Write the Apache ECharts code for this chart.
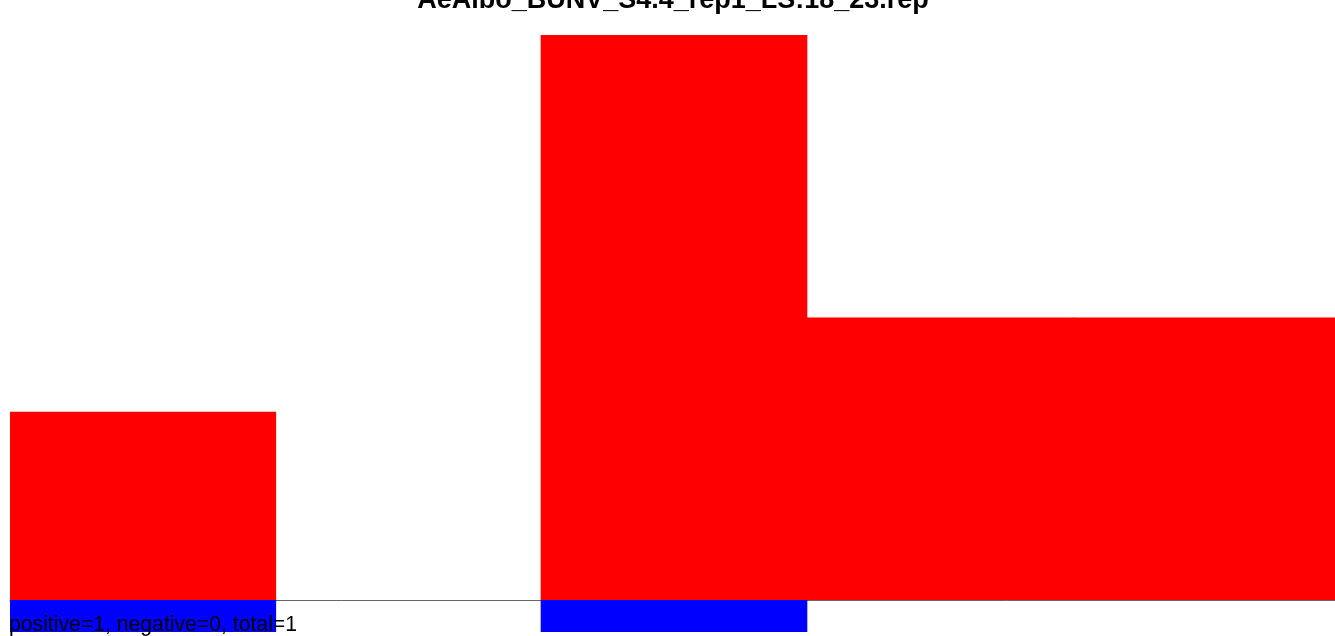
<!DOCTYPE html>
<html>
<head>
<meta charset="utf-8">
<style>html,body{margin:0;padding:0;background:#fff;overflow:hidden}#c{width:1345px;height:636px}</style>
<script src="https://cdn.jsdelivr.net/npm/echarts@6/dist/echarts.min.js"></script>
</head>
<body>
<div id="c"></div>
<script>
const titleText = 'AeAlbo_BUNV_S4.4_rep1_LS:18_23.rep';
const footerText = 'positive=1, negative=0, total=1';
const categories = ['1', '2', '3', '4', '5'];
const positiveValues = [2, 0, 6, 3, 3];
const negativeValues = [-1, 0, -1, 0, 0];

const chart = echarts.init(document.getElementById('c'), null, {renderer: 'canvas'});
chart.setOption({
  animation: false,
  backgroundColor: '#ffffff',
  grid: [
    {left: 10, width: 1328, top: 35, height: 565},
    {left: 10, width: 1328, top: 600, height: 32}
  ],
  xAxis: [
    {type: 'category', gridIndex: 0, data: categories, boundaryGap: true,
     axisLine: {show: true, lineStyle: {color: '#666', width: 1}}, axisTick: {show: false}, axisLabel: {show: false}, splitLine: {show: false}},
    {type: 'category', gridIndex: 1, data: categories, boundaryGap: true,
     axisLine: {show: false}, axisTick: {show: false}, axisLabel: {show: false}, splitLine: {show: false}}
  ],
  yAxis: [
    {type: 'value', gridIndex: 0, min: 0, max: 6, show: false, splitLine: {show: false}},
    {type: 'value', gridIndex: 1, min: -1, max: 0, show: false, splitLine: {show: false}}
  ],
  series: [
    {type: 'bar', xAxisIndex: 0, yAxisIndex: 0, data: positiveValues, barWidth: '100.4%', barCategoryGap: '0%',
     itemStyle: {color: '#ff0000'}},
    {type: 'bar', xAxisIndex: 1, yAxisIndex: 1, data: negativeValues, barWidth: '100.4%', barCategoryGap: '0%',
     itemStyle: {color: '#0000ff'}}
  ],
  graphic: [
    {type: 'text', x: 673, y: -13.4, z: 100,
     style: {text: titleText, align: 'center', verticalAlign: 'top',
             font: 'bold 27px "Liberation Sans", Arial, sans-serif', fill: '#000'}},
    {type: 'text', x: 9, y: 614.5, z: 100,
     style: {text: footerText, align: 'left', verticalAlign: 'top',
             font: '21.2px "Liberation Sans", Arial, sans-serif', fill: '#000'}}
  ]
});
</script>
</body>
</html>
